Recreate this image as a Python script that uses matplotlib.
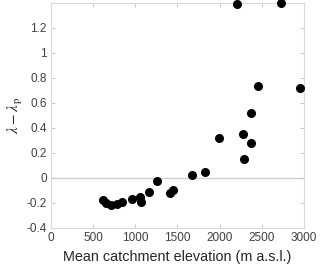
import matplotlib.pyplot as plt
import numpy as np

# mean catchment elevation (m a.s.l.) and lambda - lambda_p
elevation = [620, 655, 708, 787, 840, 960, 1056, 1064, 1165, 1260,
             1412, 1452, 1676, 1826, 1997, 2282, 2294, 2373, 2373,
             2452, 2954, 2200, 2725]
dlambda = [-0.18, -0.20, -0.22, -0.205, -0.19, -0.17, -0.15, -0.195, -0.115, -0.025,
           -0.117, -0.095, 0.022, 0.048, 0.32, 0.35, 0.15, 0.28, 0.52,
           0.736, 0.72, 1.39, 1.40]

xticks = [0, 500, 1000, 1500, 2000, 2500, 3000]
yticks = [-0.4, -0.2, 0, 0.2, 0.4, 0.6, 0.8, 1, 1.2]
yticklabels = ["-0.4", "-0.2", "0", "0.2", "0.4", "0.6", "0.8", "1", "1.2"]

plt.rcParams['font.family'] = ['Liberation Sans', 'DejaVu Sans']
plt.rcParams['mathtext.fontset'] = 'stix'

fig = plt.figure(figsize=(3.2, 2.66), dpi=100)
ax = fig.add_axes([0.159, 0.143, 0.791, 0.846])

ax.axhline(0, color='#d0d0d0', lw=1.0, zorder=1)
ax.scatter(elevation, dlambda, s=30, color='black', zorder=3, clip_on=False)

ax.set_xlim(0, 3000)
ax.set_ylim(-0.4, 1.4)
ax.set_xticks(xticks)
ax.set_yticks(yticks)
ax.set_yticklabels(yticklabels)

for sp in ax.spines.values():
    sp.set_color('#d9d9d9')
    sp.set_linewidth(0.8)
ax.tick_params(direction='in', length=3, width=0.6, color='#bdbdbd',
               labelsize=8.5, labelcolor='#404040', top=True, right=True,
               labeltop=False, labelright=False, pad=3)

ax.set_xlabel("Mean catchment elevation (m a.s.l.)", fontsize=10.4, color='#262626', labelpad=4)
ax.set_ylabel(r"$\lambda - \lambda_{\,\mathrm{p}}$", fontsize=11, color='#262626', labelpad=1)

plt.savefig("out.png", dpi=100)
